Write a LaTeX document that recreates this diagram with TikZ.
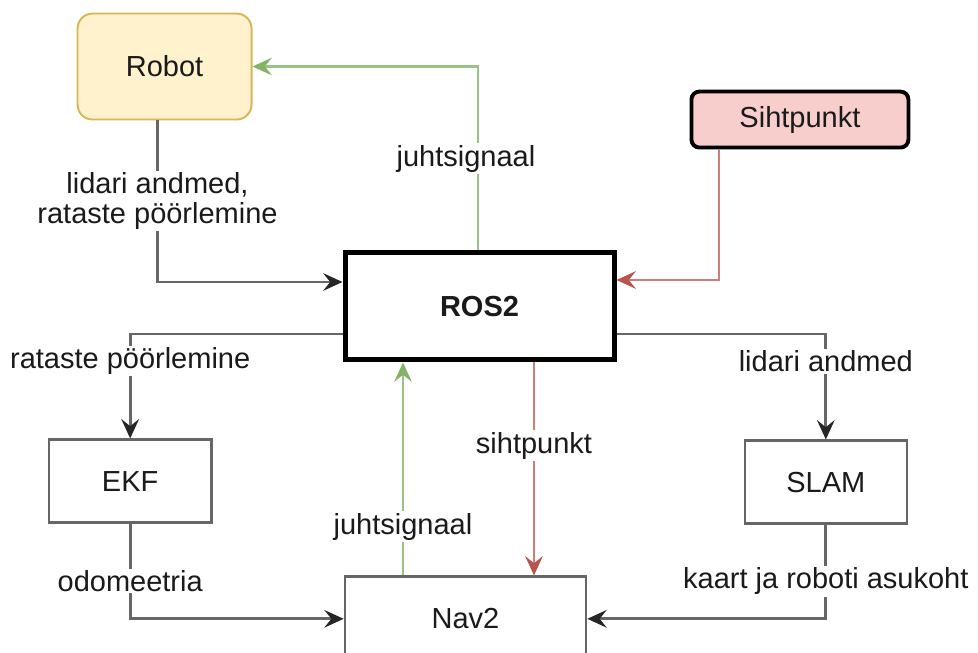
\documentclass[tikz,border=0pt]{standalone}
\usepackage{fontspec}
\setmainfont{Liberation Sans}
\usepackage{xcolor}
\usepackage{tikz}
\usetikzlibrary{arrows.meta, positioning, calc}
\definecolor{robotyellow}{HTML}{FFF2CC}
\definecolor{robotedge}{HTML}{D6B656}
\definecolor{goalred}{HTML}{F8CECC}
\definecolor{linkred}{HTML}{B85450}
\definecolor{linkgreen}{HTML}{82B366}
\definecolor{boxgray}{HTML}{666666}
\definecolor{textdark}{HTML}{1A1A1A}
\newcommand{\diafont}{\fontsize{16.5}{17}\selectfont}
\tikzset{
    module/.style={rectangle, draw=boxgray, line width=1.5pt, fill=white, minimum width=3.24cm, minimum height=1.66cm, text centered, text=textdark, font=\diafont},
    hardware/.style={rectangle, rounded corners=0.3cm, draw=robotedge, fill=robotyellow, line width=1.1pt, minimum width=3.48cm, minimum height=2.12cm, text=textdark, font=\diafont},
    goal/.style={rectangle, rounded corners=0.16cm, draw=black, fill=goalred, line width=2.2pt, minimum width=4.34cm, minimum height=1.12cm, text=textdark, font=\diafont},
    core/.style={rectangle, draw=black, fill=white, line width=0.1cm, minimum width=5.38cm, minimum height=2.14cm, text=textdark, font=\diafont\bfseries},
    lbl/.style={fill=white, inner sep=1pt, text=textdark, font=\diafont, align=center},
    arrow/.style={draw=boxgray, line width=1.6pt, -{Stealth[length=11pt, width=10pt, inset=4pt, color=black!85]}},
    greenarrow/.style={draw=linkgreen!80, line width=1.2pt, -{Stealth[length=11pt, width=10pt, inset=4pt, color=linkgreen]}},
    redarrow/.style={draw=linkred!75, line width=1.2pt, -{Stealth[length=11pt, width=10pt, inset=4pt, color=linkred]}}
}

\begin{document}
\begin{tikzpicture}
    \useasboundingbox (0,0) rectangle (19.56,-13.06);
    \node (ros) [core] at (9.59,-6.13) {ROS2};
    \node (robot) [hardware, above left=2.6cm and 1.8cm of ros] {Robot};
    \node (siht) [goal, above right=2.02cm and 1.46cm of ros] {Sihtpunkt};
    \node (ekf) [module, below left=1.52cm and 2.6cm of ros] {EKF};
    \node (slam) [module, below right=1.54cm and 2.54cm of ros] {SLAM};
    \node (nav) [module, below=4.26cm of ros, xshift=-0.28cm, minimum width=4.82cm, minimum height=1.68cm] {Nav2};

    % sisendid ROS2-le
    \draw [arrow] ([xshift=-0.14cm]robot.south) |- node [lbl, pos=0.25] {lidari andmed,\\rataste pöörlemine} ([yshift=0.49cm]ros.west);
    \draw [greenarrow] ([xshift=-0.03cm]ros.north) |- node [lbl, pos=0.25, xshift=-0.24cm] {juhtsignaal} (robot.east);
    \draw [redarrow] ([xshift=-1.61cm]siht.south) |- ([yshift=0.53cm]ros.east);

    % ROS2 -> moodulid
    \draw [arrow] ([yshift=-0.55cm]ros.west) -| node [lbl, pos=0.63] {rataste pöörlemine} (ekf.north);
    \draw [arrow] ([yshift=-0.55cm]ros.east) -| node [lbl, pos=0.63] {lidari andmed} (slam.north);

    % moodulid -> Nav2
    \draw [arrow] (ekf.south) |- node [lbl, pos=0.3] {odomeetria} (nav.west);
    \draw [arrow] (slam.south) |- node [lbl, pos=0.3] {kaart ja roboti asukoht} (nav.east);
    \draw [greenarrow] ([xshift=-1.25cm]nav.north) -- node [lbl, pos=0.23] {juhtsignaal} ([xshift=-1.25cm]nav.north |- ros.south);
    \draw [redarrow] ([xshift=1.09cm]ros.south) -- node [lbl, pos=0.39] {sihtpunkt} ([xshift=1.09cm]ros.south |- nav.north);
\end{tikzpicture}
\end{document}
